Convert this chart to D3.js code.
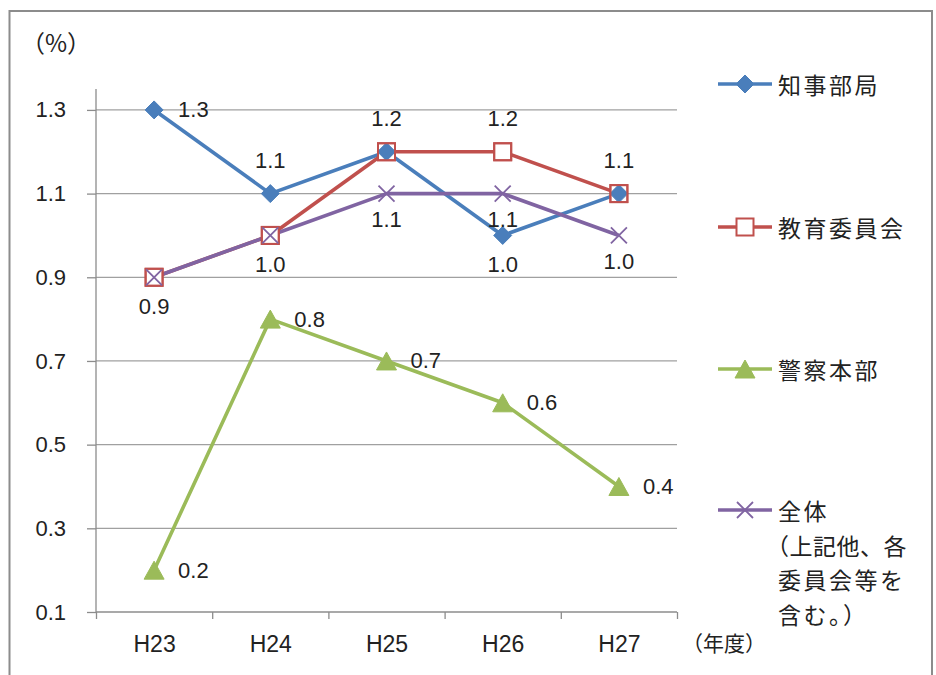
<!DOCTYPE html>
<html>
<head>
<meta charset="utf-8">
<script src="https://cdn.jsdelivr.net/npm/d3@7"></script>
<style>
  html, body { margin: 0; padding: 0; background: #fff; }
  svg { display: block; }
</style>
</head>
<body>
<svg id="chart" width="936" height="675"></svg>
<script>
// ---- data ----
const categories = ["H23", "H24", "H25", "H26", "H27"];
const chijiBukyoku = [1.3, 1.1, 1.2, 1.0, 1.1];   // 知事部局
const kyoikuIinkai = [0.9, 1.0, 1.2, 1.2, 1.1];   // 教育委員会
const keisatsuHonbu = [0.2, 0.8, 0.7, 0.6, 0.4];  // 警察本部
const zentai = [0.9, 1.0, 1.1, 1.1, 1.0];         // 全体
const yTickValues = [0.1, 0.3, 0.5, 0.7, 0.9, 1.1, 1.3];
const seriesNames = ["知事部局", "教育委員会", "警察本部", "全体"];
const zentaiLegendLines = ["全体", "（上記他、各", "委員会等を", "含む。）"];
const yUnit = "（%）";
const xUnit = "（年度）";

// label placement per point (null = hidden, duplicates another label)
const labelPos = [
  ["right", "above", "above", "below", "above"],
  ["below", "below", null, "above", null],
  ["right", "right", "right", "right", "right"],
  [null, null, "below", "below", "below"]
];

const colors = ["#4A7EBB", "#C0504D", "#9BBB59", "#8064A2"];
const markers = ["diamond", "square", "triangle", "x"];
const values = [chijiBukyoku, kyoikuIinkai, keisatsuHonbu, zentai];

const svg = d3.select("#chart");
const numFont = "'Liberation Sans', Arial, sans-serif";
const jpFont = "'Noto Sans CJK JP', 'Noto Sans', sans-serif";

// outer frame
svg.append("rect").attr("x", 9.5).attr("y", 11).attr("width", 922.5).attr("height", 700)
  .attr("fill", "#fff").attr("stroke", "#8c8c8c").attr("stroke-width", 2);

const plot = { left: 96, right: 677, top: 89, bottom: 612 };
const x = d3.scalePoint().domain(categories).range([plot.left, plot.right]).padding(0.5);
const y = d3.scaleLinear().domain([0.1, 1.35]).range([plot.bottom, plot.top]);

// gridlines
svg.append("g").selectAll("line").data(yTickValues.filter(v => v > 0.1)).join("line")
  .attr("x1", plot.left).attr("x2", plot.right)
  .attr("y1", d => y(d)).attr("y2", d => y(d))
  .attr("stroke", "#a0a0a0").attr("stroke-width", 1.2);

// y axis
const yAxis = svg.append("g").attr("transform", `translate(${plot.left},0)`)
  .call(d3.axisLeft(y).tickValues(yTickValues).tickFormat(d3.format(".1f")).tickSize(9).tickPadding(21));
yAxis.select(".domain").attr("stroke", "#8c8c8c").attr("stroke-width", 1.3).attr("d", `M0,${plot.top}V${plot.bottom}`);
yAxis.selectAll(".tick line").attr("stroke", "#8c8c8c").attr("stroke-width", 1.3);
yAxis.selectAll(".tick text").attr("font-family", numFont).attr("font-size", 22).attr("fill", "#222");

// x axis with boundary ticks
const xb = d3.scaleLinear().domain([0, categories.length]).range([plot.left, plot.right]);
svg.append("g").attr("transform", `translate(0,${plot.bottom})`)
  .call(d3.axisBottom(xb).tickValues(d3.range(categories.length + 1)).tickFormat("").tickSize(7))
  .call(g => { g.select(".domain").attr("stroke", "#8c8c8c").attr("stroke-width", 1.3).attr("d", `M${plot.left},0H${plot.right}`); g.selectAll(".tick line").attr("stroke", "#8c8c8c").attr("stroke-width", 1.3); });

const xAxis = svg.append("g").attr("transform", `translate(0,${plot.bottom})`)
  .call(d3.axisBottom(x).tickSize(0).tickPadding(24));
xAxis.select(".domain").remove();
xAxis.selectAll(".tick text").attr("font-family", numFont).attr("font-size", 23).attr("fill", "#222");

// unit labels
svg.append("text").attr("x", 21).attr("y", 41).attr("dominant-baseline", "central").text(yUnit)
  .attr("font-family", jpFont).attr("font-size", 24).attr("fill", "#222");
svg.append("text").attr("x", 682).attr("y", 642).attr("dominant-baseline", "central").text(xUnit)
  .attr("font-family", jpFont).attr("font-size", 21).attr("fill", "#222");

// marker drawing
function drawMarker(g, type, cx, cy, color, fillOverride) {
  if (type === "diamond") {
    const r = 9;
    g.append("path").attr("d", `M${cx},${cy - r}L${cx + r},${cy}L${cx},${cy + r}L${cx - r},${cy}Z`)
      .attr("fill", color).attr("stroke", color).attr("stroke-width", 1);
  } else if (type === "square") {
    const h = 8.5;
    g.append("rect").attr("x", cx - h).attr("y", cy - h).attr("width", 2 * h).attr("height", 2 * h)
      .attr("fill", fillOverride || "none").attr("stroke", color).attr("stroke-width", 2);
  } else if (type === "triangle") {
    const w = 10, hh = 9;
    g.append("path").attr("d", `M${cx},${cy - hh}L${cx + w},${cy + hh}L${cx - w},${cy + hh}Z`)
      .attr("fill", color).attr("stroke", color).attr("stroke-width", 1);
  } else if (type === "x") {
    const r = 8;
    g.append("path").attr("d", `M${cx - r},${cy - r}L${cx + r},${cy + r}M${cx - r},${cy + r}L${cx + r},${cy - r}`)
      .attr("fill", "none").attr("stroke", color).attr("stroke-width", 1.8);
  }
}

// lines
const line = d3.line().x((d, i) => x(categories[i])).y(d => y(d));
values.forEach((vals, s) => {
  svg.append("path").datum(vals).attr("d", line)
    .attr("fill", "none").attr("stroke", colors[s]).attr("stroke-width", 3.6)
    .attr("stroke-linejoin", "round");
});

// markers
const mg = svg.append("g");
kyoikuIinkai.forEach((v, i) => drawMarker(mg, "square", x(categories[i]), y(v), colors[1], "#fff"));
chijiBukyoku.forEach((v, i) => drawMarker(mg, "diamond", x(categories[i]), y(v), colors[0]));
kyoikuIinkai.forEach((v, i) => drawMarker(mg, "square", x(categories[i]), y(v), colors[1]));
keisatsuHonbu.forEach((v, i) => drawMarker(mg, "triangle", x(categories[i]), y(v), colors[2]));
zentai.forEach((v, i) => drawMarker(mg, "x", x(categories[i]), y(v), colors[3]));

// data labels
const lg = svg.append("g").attr("font-family", numFont).attr("font-size", 22).attr("fill", "#222");
values.forEach((vals, s) => {
  vals.forEach((v, i) => {
    const pos = labelPos[s][i];
    if (!pos) return;
    const px = x(categories[i]), py = y(v);
    const t = lg.append("text").text(d3.format(".1f")(v)).attr("dominant-baseline", "central");
    if (pos === "right") t.attr("x", px + 24).attr("y", py).attr("text-anchor", "start");
    else if (pos === "above") t.attr("x", px).attr("y", py - 33).attr("text-anchor", "middle");
    else t.attr("x", px).attr("y", py + (s === 3 ? 26 : 29)).attr("text-anchor", "middle");
  });
});

// legend
const legendY = [84, 227, 369, 510];
const leg = svg.append("g");
seriesNames.forEach((name, s) => {
  const ly = legendY[s];
  leg.append("line").attr("x1", 718).attr("x2", 772).attr("y1", ly).attr("y2", ly)
    .attr("stroke", colors[s]).attr("stroke-width", 3.6);
  drawMarker(leg, markers[s], 745, ly, colors[s], s === 1 ? "#fff" : null);
  const lines = s === 3 ? zentaiLegendLines : [name];
  lines.forEach((txt, k) => {
    const startsParen = txt.startsWith("（");
    leg.append("text").attr("x", startsParen ? 766 : 778).attr("y", ly + k * 34.5).attr("dominant-baseline", "central")
      .attr("font-family", jpFont).attr("font-size", 23).attr("letter-spacing", startsParen ? 0.5 : 2.5)
      .attr("fill", "#222").text(txt);
  });
});
</script>
</body>
</html>
